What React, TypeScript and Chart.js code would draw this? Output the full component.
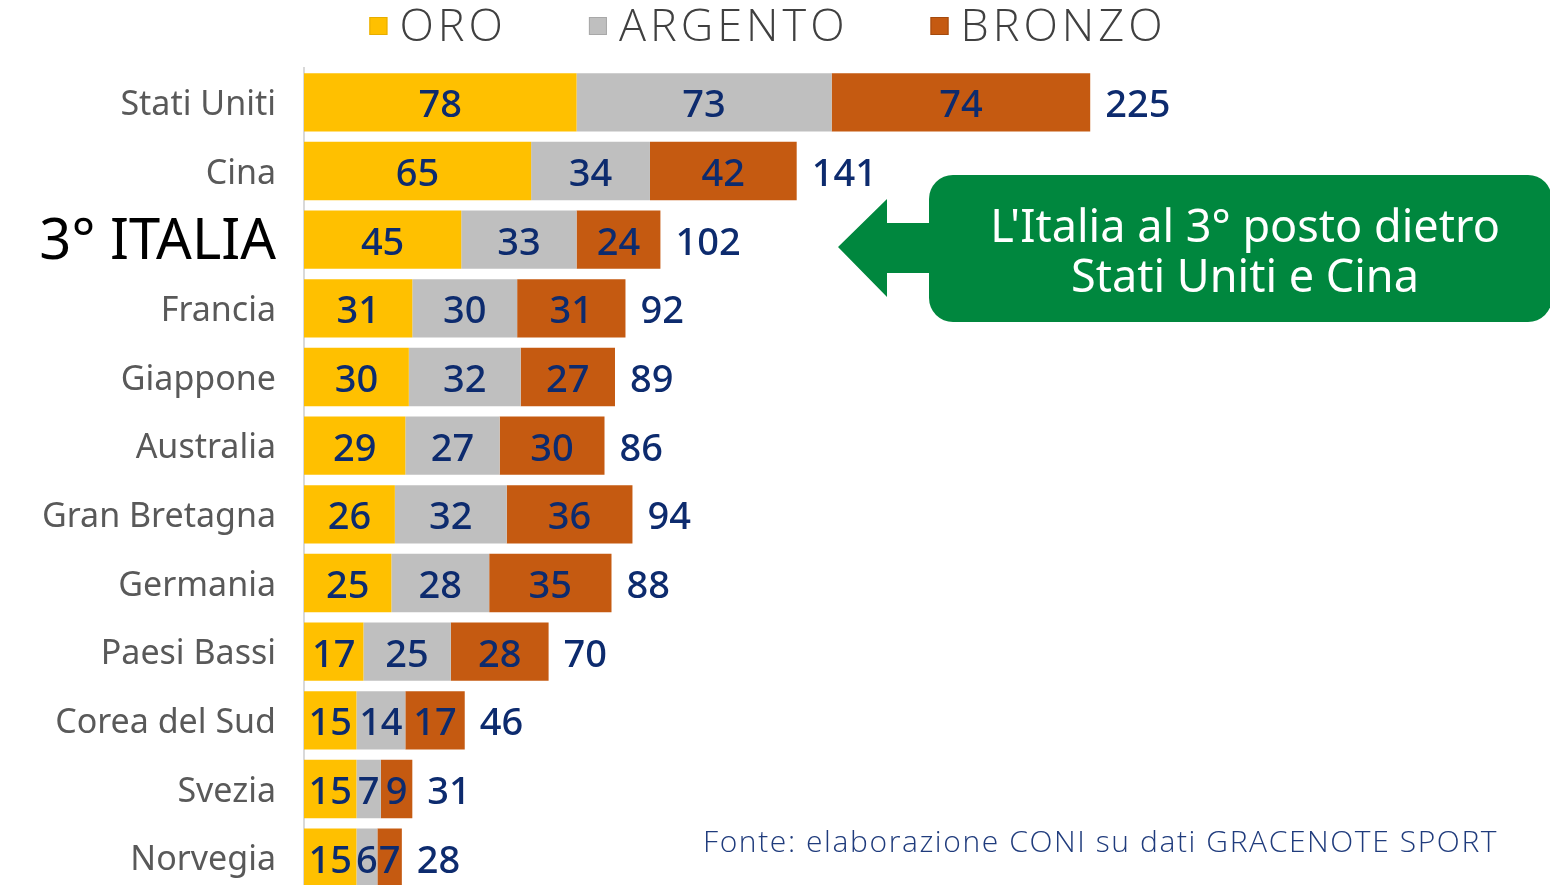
import React, { useEffect, useRef } from "react";
import { Chart, registerables } from "chart.js";

Chart.register(...registerables);

// ---------- DATA ----------
const countries = [
  "Stati Uniti",
  "Cina",
  "3° ITALIA",
  "Francia",
  "Giappone",
  "Australia",
  "Gran Bretagna",
  "Germania",
  "Paesi Bassi",
  "Corea del Sud",
  "Svezia",
  "Norvegia",
];
const oro = [78, 65, 45, 31, 30, 29, 26, 25, 17, 15, 15, 15];
const argento = [73, 34, 33, 30, 32, 27, 32, 28, 25, 14, 7, 6];
const bronzo = [74, 42, 24, 31, 27, 30, 36, 35, 28, 17, 9, 7];
const seriesNames = ["ORO", "ARGENTO", "BRONZO"];
const highlightIndex = 2;
const calloutLines = ["L'Italia al 3° posto dietro", "Stati Uniti e Cina"];
const sourceNote = "Fonte: elaborazione CONI su dati GRACENOTE SPORT";

// ---------- STYLE ----------
const FONT = '"Noto Sans", sans-serif';
const LIGHT_FONT = '"Open Sans", "Noto Sans", sans-serif';
const COLORS = ["#FFC000", "#BFBFBF", "#C55A11"];
const BORDERS = ["#E6AD00", "#A8A8A8", "#A34A0E"];
const NAVY = "#0D2B6E";
const GREEN = "#00873E";

const legendPlugin = {
  id: "customLegend",
  afterDraw(chart: any) {
    const ctx = chart.ctx;
    ctx.save();
    ctx.font = `300 45px ${LIGHT_FONT}`;
    (ctx as any).letterSpacing = "4px";
    const box = 18;
    const gapBT = 12;
    const gapItems = 82;
    const names = chart.data.datasets.map((d: any) => d.label);
    const widths = names.map((n: string) => ctx.measureText(n).width);
    const total =
      widths.reduce((a: number, w: number) => a + box + gapBT + w, 0) +
      gapItems * (names.length - 1);
    let x = 768 - total / 2;
    names.forEach((n: string, i: number) => {
      const ds = chart.data.datasets[i];
      ctx.fillStyle = ds.backgroundColor;
      ctx.fillRect(x, 17, box, box);
      ctx.strokeStyle = BORDERS[i];
      ctx.lineWidth = 1;
      ctx.strokeRect(x + 0.5, 17.5, box - 1, box - 1);
      ctx.fillStyle = "#404040";
      ctx.textAlign = "left";
      ctx.textBaseline = "alphabetic";
      ctx.fillText(n, x + box + gapBT, 41);
      x += box + gapBT + widths[i] + gapItems;
    });
    ctx.restore();
  },
};

const valueLabelPlugin = {
  id: "valueLabels",
  afterDatasetsDraw(chart: any) {
    const ctx = chart.ctx;
    ctx.save();
    ctx.font = `500 38px ${FONT}`;
    ctx.fillStyle = NAVY;
    ctx.textBaseline = "alphabetic";
    ctx.textAlign = "center";
    const n = chart.data.datasets.length;
    chart.data.datasets.forEach((ds: any, i: number) => {
      const meta = chart.getDatasetMeta(i);
      meta.data.forEach((bar: any, j: number) => {
        ctx.fillText(String(ds.data[j]), (bar.x + bar.base) / 2, bar.y + 15);
      });
    });
    const last = chart.getDatasetMeta(n - 1);
    ctx.textAlign = "left";
    last.data.forEach((bar: any, j: number) => {
      let total = 0;
      chart.data.datasets.forEach((ds: any) => (total += ds.data[j]));
      ctx.fillText(String(total), bar.x + 15, bar.y + 15);
    });
    ctx.restore();
  },
};

const calloutPlugin = {
  id: "callout",
  afterDraw(chart: any) {
    const ctx = chart.ctx;
    ctx.save();
    ctx.fillStyle = GREEN;
    // arrow
    ctx.beginPath();
    ctx.moveTo(838, 247);
    ctx.lineTo(887, 199);
    ctx.lineTo(887, 223);
    ctx.lineTo(945, 223);
    ctx.lineTo(945, 273);
    ctx.lineTo(887, 273);
    ctx.lineTo(887, 297);
    ctx.closePath();
    ctx.fill();
    // box
    ctx.beginPath();
    (ctx as any).roundRect(929, 175, 1552 - 929, 147, 24);
    ctx.fill();
    ctx.fillStyle = "#FFFFFF";
    ctx.font = `400 45px ${FONT}`;
    ctx.textAlign = "center";
    ctx.textBaseline = "alphabetic";
    ctx.fillText(calloutLines[0], 1245, 242);
    ctx.fillText(calloutLines[1], 1245, 292);
    // source
    ctx.fillStyle = "#1F3B7C";
    ctx.font = `300 30px ${LIGHT_FONT}`;
    (ctx as any).letterSpacing = "1.6px";
    ctx.textAlign = "left";
    ctx.fillText(sourceNote, 703, 852);
    ctx.restore();
  },
};

export default function App() {
  const ref = useRef<HTMLCanvasElement | null>(null);

  useEffect(() => {
    document.body.style.margin = "0";
    document.body.style.overflow = "hidden";
    const canvas = ref.current!;
    const values = [oro, argento, bronzo];
    const chart = new Chart(canvas, {
      type: "bar",
      data: {
        labels: countries,
        datasets: seriesNames.map((name, i) => ({
          label: name,
          data: values[i],
          backgroundColor: COLORS[i],
          borderWidth: 0,
          categoryPercentage: 1,
          barPercentage: 0.85,
        })),
      },
      options: {
        indexAxis: "y",
        responsive: false,
        animation: false,
        devicePixelRatio: 1,
        layout: { padding: { top: 68, right: 23, bottom: 0, left: 0 } },
        plugins: {
          legend: { display: false },
          tooltip: { enabled: false },
          title: { display: false },
        },
        scales: {
          x: {
            stacked: true,
            display: false,
            min: 0,
            max: 350,
          },
          y: {
            stacked: true,
            afterFit: (scale: any) => {
              scale.width = 304;
              scale.paddingTop = 0;
              scale.paddingBottom = 0;
            },
            grid: { display: false, drawTicks: false },
            border: { display: true, color: "#D9D9D9", width: 2 },
            ticks: {
              padding: 28,
              labelOffset: 3,
              autoSkip: false,
              color: (c: any) => (c.index === highlightIndex ? "#000000" : "#595959"),
              font: (c: any) =>
                c.index === highlightIndex
                  ? { family: FONT, size: 56, weight: "400" }
                  : { family: FONT, size: 34, weight: "400" },
            },
          },
        },
      } as any,
      plugins: [legendPlugin, valueLabelPlugin, calloutPlugin],
    });
    return () => chart.destroy();
  }, []);

  return (
    <div style={{ position: "relative", width: 1550, height: 885, overflow: "hidden", background: "#fff" }}>
      <canvas ref={ref} width={1550} height={892} style={{ display: "block", width: 1550, height: 892 }} />
    </div>
  );
}
